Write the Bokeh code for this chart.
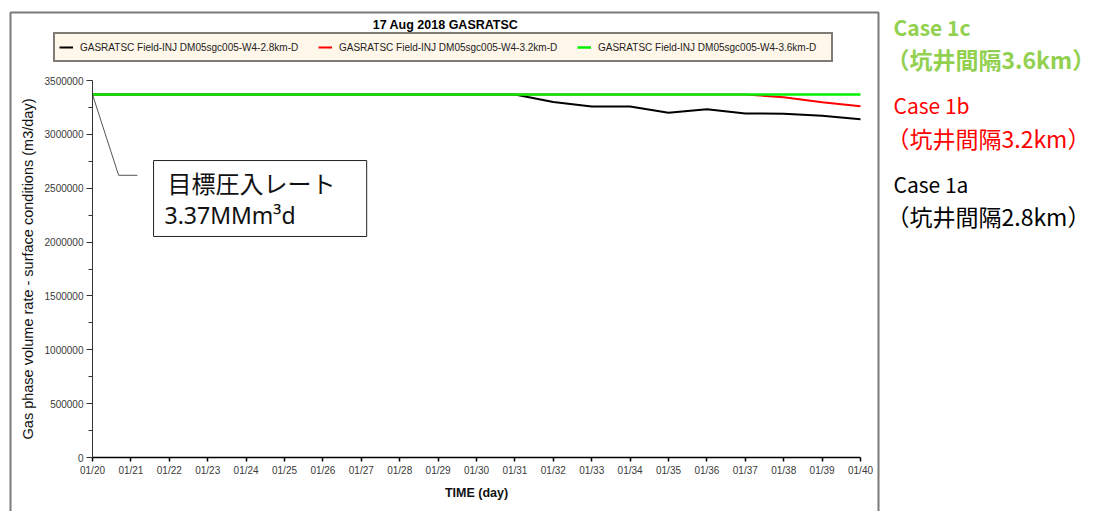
from bokeh.plotting import figure
from bokeh.models import (Range1d, FixedTicker, Label, BoxAnnotation, Legend, LegendItem)
from bokeh.embed import file_html
from bokeh.resources import INLINE

# ---------------- data ----------------
days = [20, 21, 22, 23, 24, 25, 26, 27, 28, 29, 30, 31, 32, 33, 34, 35, 36, 37, 38, 39, 40]
case_1a = [3370000, 3370000, 3370000, 3370000, 3370000, 3370000, 3370000, 3370000, 3370000,
           3370000, 3370000, 3370000, 3300000, 3259000, 3258000, 3200000, 3234000, 3194000,
           3191000, 3173000, 3141000]
case_1b = [3370000, 3370000, 3370000, 3370000, 3370000, 3370000, 3370000, 3370000, 3370000,
           3370000, 3370000, 3370000, 3370000, 3370000, 3370000, 3370000, 3370000, 3370000,
           3345000, 3299000, 3260000]
case_1c = [3370000, 3370000, 3370000, 3370000, 3370000, 3370000, 3370000, 3370000, 3370000,
           3370000, 3370000, 3370000, 3370000, 3370000, 3370000, 3370000, 3370000, 3370000,
           3370000, 3370000, 3370000]
series_names = ["GASRATSC Field-INJ DM05sgc005-W4-2.8km-D",
                "GASRATSC Field-INJ DM05sgc005-W4-3.2km-D",
                "GASRATSC Field-INJ DM05sgc005-W4-3.6km-D"]
x_tick_labels = ["01/20", "01/21", "01/22", "01/23", "01/24", "01/25", "01/26", "01/27",
                 "01/28", "01/29", "01/30", "01/31", "01/32", "01/33", "01/34", "01/35",
                 "01/36", "01/37", "01/38", "01/39", "01/40"]
y_ticks = [0, 500000, 1000000, 1500000, 2000000, 2500000, 3000000, 3500000]
y_minor = [250000, 750000, 1250000, 1750000, 2250000, 2750000, 3250000]
y_tick_labels = ["0", "500000", "1000000", "1500000", "2000000", "2500000", "3000000", "3500000"]
target_rate = 3370000
# callout (data coordinates of the annotation)
leader_x = [20, 20.68, 21.17]
leader_y = [3370000, 2620000, 2620000]
callout_box = dict(left=21.59, right=27.14, top=2757000, bottom=2052000)

case_texts = [("Case 1c", "#92D050", "bold"), ("（坑井間隔3.6km）", "#92D050", "bold"),
              ("Case 1b", "#FF0000", "normal"), ("（坑井間隔3.2km）", "#FF0000", "normal"),
              ("Case 1a", "#000000", "normal"), ("（坑井間隔2.8km）", "#000000", "normal")]

AX_FONT = "Liberation Sans"
W, H = 1094, 511
# plot area in page pixels: day 20 -> x=92, day 40 -> x=860; 0 -> y=457, 3.5M -> y=80
PX_DAY = (860 - 92) / 20.0
PX_VAL = 3500000 / (457 - 80)

p = figure(width=W, height=H, output_backend="svg", toolbar_location=None,
           x_range=Range1d(days[0] - 92 / PX_DAY, days[0] + (W - 92) / PX_DAY),
           y_range=Range1d(-(H - 457) * PX_VAL, 457 * PX_VAL),
           min_border=0)
p.outline_line_color = None
p.xgrid.visible = False
p.ygrid.visible = False
p.background_fill_color = "white"
p.border_fill_color = "white"

# axes drawn at the data origin
p.xaxis.fixed_location = 0
p.yaxis.fixed_location = days[0]
p.xaxis.bounds = (days[0], days[-1])
p.yaxis.bounds = (y_ticks[0], y_ticks[-1])
p.xaxis.ticker = FixedTicker(ticks=days)
p.xaxis.major_label_overrides = {d: l for d, l in zip(days, x_tick_labels)}
p.yaxis.ticker = FixedTicker(ticks=y_ticks, minor_ticks=y_minor)
p.yaxis.major_label_overrides = {t: l for t, l in zip(y_ticks, y_tick_labels)}
for ax in (p.xaxis, p.yaxis):
    ax.major_label_text_font = AX_FONT
    ax.major_label_text_font_size = "10px"
    ax.major_label_text_color = "#3a3a3a"
    ax.major_tick_in = 0
    ax.minor_tick_in = 0
    ax.axis_label_text_font = AX_FONT
    ax.axis_label_text_color = "#111111"
p.xaxis.minor_tick_line_color = None
p.xaxis.major_tick_out = 4
p.xaxis.major_label_standoff = 3
p.xaxis.axis_line_width = 1.5
p.xaxis.axis_line_color = "black"
p.xaxis.major_tick_line_color = "black"
p.xaxis.major_tick_line_width = 1.5
p.xaxis.axis_label = "TIME (day)"
p.xaxis.axis_label_text_font_style = "bold"
p.xaxis.axis_label_text_font_size = "12.5px"
p.xaxis.axis_label_standoff = 7

p.yaxis.major_tick_out = 6
p.yaxis.minor_tick_out = 4
p.yaxis.major_label_standoff = 3
p.yaxis.axis_line_color = "#333333"
p.yaxis.major_tick_line_color = "#333333"
p.yaxis.minor_tick_line_color = "#333333"
p.yaxis.axis_label = "Gas phase volume rate - surface conditions (m3/day)"
p.yaxis.axis_label_text_font_style = "normal"
p.yaxis.axis_label_text_font_size = "14.5px"
p.yaxis.axis_label_standoff = 6

# series
r_a = p.line(days, case_1a, line_color="black", line_width=2)
r_b = p.line(days, case_1b, line_color="#FF0000", line_width=2)
r_c = p.line(days, case_1c, line_color="#00F000", line_width=2.5)

legend = Legend(items=[LegendItem(label=series_names[0], renderers=[r_a]),
                       LegendItem(label=series_names[1], renderers=[r_b]),
                       LegendItem(label=series_names[2], renderers=[r_c])],
                orientation="horizontal", location=(53, H - 62),
                label_text_font=AX_FONT, label_text_font_size="10px",
                label_text_color="#222222",
                glyph_width=14, glyph_height=18, label_height=18, label_width=229,
                label_standoff=7, spacing=9, padding=4, margin=0,
                border_line_color="black", border_line_width=2,
                background_fill_color="#FFF7EA", background_fill_alpha=1)
p.add_layout(legend, "center")

# title
p.add_layout(Label(x=445, y=H - 24, x_units="screen", y_units="screen",
                   text="17 Aug 2018 GASRATSC", text_align="center", text_baseline="middle",
                   text_font=AX_FONT, text_font_style="bold", text_font_size="12.5px",
                   text_color="black"))

# outer chart border (bottom edge below the window)
p.add_layout(BoxAnnotation(left=10, right=878, top=H - 12, bottom=-20,
                           left_units="screen", right_units="screen",
                           top_units="screen", bottom_units="screen",
                           fill_alpha=0, line_color="#7a7a7a", line_alpha=1, line_width=2))

# callout
p.line(leader_x, leader_y, line_color="#555555", line_width=1)
p.add_layout(BoxAnnotation(fill_color="white", fill_alpha=1, line_color="#222222",
                           line_alpha=1, line_width=1, **callout_box))
p.add_layout(Label(x=167, y=H - 182, x_units="screen", y_units="screen", text="目標圧入レート",
                   text_align="left", text_baseline="middle",
                   text_font="Noto Sans CJK JP", text_font_size="24px", text_color="#111111"))
p.add_layout(Label(x=164, y=H - 214, x_units="screen", y_units="screen",
                   text="3.37MMm³d", text_align="left", text_baseline="alphabetic",
                   text_font="Noto Sans", text_font_size="23px", text_color="#111111"))

# right-side case texts
case_y = [26, 58, 104, 137, 183, 215]
case_x = [893, 886, 893, 886, 893, 886]
case_size = ["21px", "23px", "21px", "23px", "21px", "23px"]
for (txt, col, style), yy, xx, fs in zip(case_texts, case_y, case_x, case_size):
    p.add_layout(Label(x=xx, y=H - yy, x_units="screen", y_units="screen", text=txt,
                       text_align="left", text_baseline="middle",
                       text_font="Noto Sans CJK JP", text_font_size=fs,
                       text_font_style=style, text_color=col))

open("out.html", "w").write(file_html(p, INLINE))
